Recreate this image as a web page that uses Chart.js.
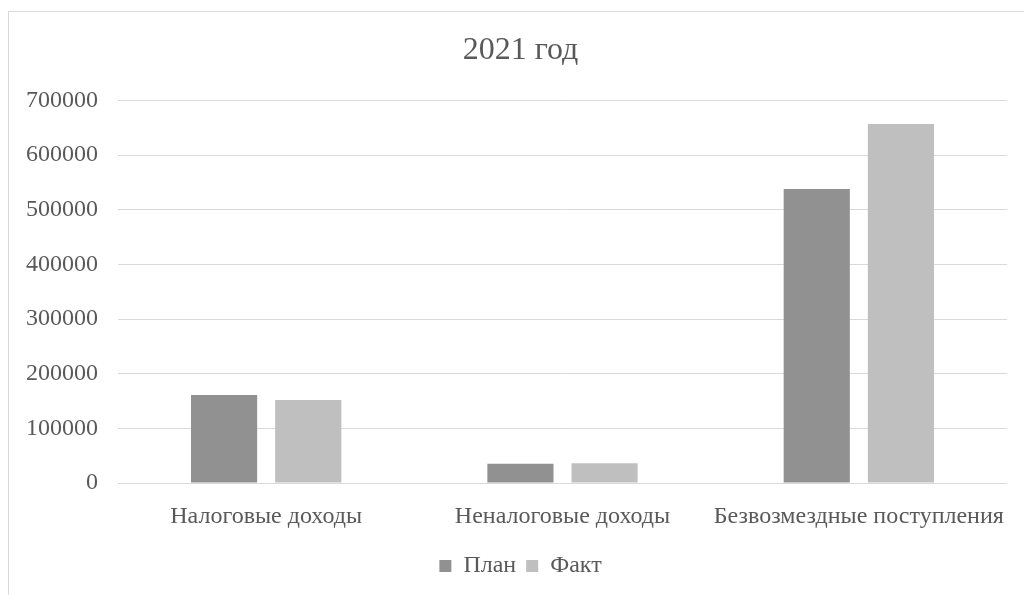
<!DOCTYPE html>
<html>
<head>
<meta charset="utf-8">
<script src="https://cdn.jsdelivr.net/npm/chart.js@4"></script>
<style>
  html, body { margin: 0; padding: 0; background: #fff; overflow: hidden; }
  #frame { position: absolute; left: 8px; top: 11px; width: 1100px; height: 700px; border: 1px solid #d9d9d9; }
  #wrap { position: absolute; left: 0; top: 0; width: 1041px; height: 595px; }
</style>
</head>
<body>
<div id="frame"></div>
<div id="wrap"><canvas id="myChart"></canvas></div>
<script>
const categories = ['Налоговые доходы', 'Неналоговые доходы', 'Безвозмездные поступления']
const planValues = [161000, 35000, 538000]
const factValues = [152000, 36000, 657000]
const seriesNames = ['План', 'Факт']

const textColor = '#595959'
const fontName = '"Liberation Serif", "Times New Roman", serif'

const ctx = document.getElementById('myChart')
const myBarChart = new Chart(ctx, {
    type: 'bar',
    data: {
        labels: categories,
        datasets: [{
            label: seriesNames[0],
            data: planValues,
            backgroundColor: '#919191',
            borderWidth: 0,
            categoryPercentage: 0.568,
            barPercentage: 0.786
        }, {
            label: seriesNames[1],
            data: factValues,
            backgroundColor: '#bfbfbf',
            borderWidth: 0,
            categoryPercentage: 0.568,
            barPercentage: 0.786
        }]
    },
    options: {
        responsive: true,
        maintainAspectRatio: false,
        animation: false,
        layout: {
            padding: { left: 0, right: 0, top: 0, bottom: 7 }
        },
        plugins: {
            title: {
                display: true,
                text: '2021 год',
                color: textColor,
                font: { family: fontName, size: 32, weight: 'normal' },
                padding: { top: 31, bottom: 31 }
            },
            legend: {
                position: 'bottom',
                labels: {
                    color: textColor,
                    font: { family: fontName, size: 24 },
                    boxWidth: 12,
                    boxHeight: 12,
                    padding: 10
                }
            },
            tooltip: { enabled: false }
        },
        scales: {
            x: {
                grid: { display: false, drawTicks: false },
                border: { display: false },
                ticks: {
                    color: textColor,
                    font: { family: fontName, size: 24 },
                    padding: 19,
                    maxRotation: 0
                },
                afterFit(axis) { axis.height = 61 }
            },
            y: {
                min: 0,
                max: 700000,
                grid: { color: '#d9d9d9', lineWidth: 1, drawTicks: false },
                border: { display: false },
                ticks: {
                    stepSize: 100000,
                    color: textColor,
                    font: { family: fontName, size: 24 },
                    padding: 20,
                    callback: v => String(v)
                },
                afterFit(axis) { axis.width = 118 }
            },
            // empty right axis, keeps the right margin inside the title/legend box
            yRight: {
                position: 'right',
                grid: { display: false, drawTicks: false },
                border: { display: false },
                ticks: { display: false },
                afterFit(axis) { axis.width = 34 }
            }
        }
    }
})
</script>
</body>
</html>
